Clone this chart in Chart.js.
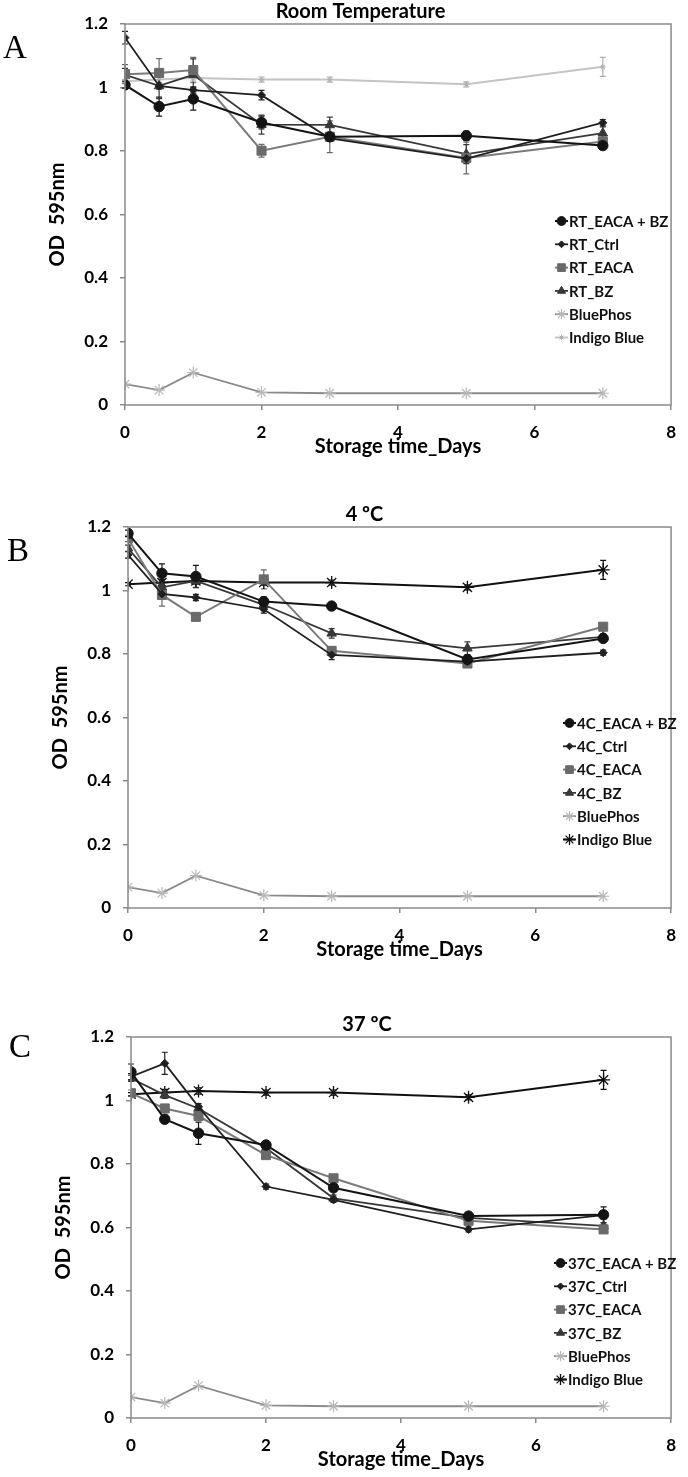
<!DOCTYPE html>
<html>
<head>
<meta charset="utf-8">
<script src="https://cdn.jsdelivr.net/npm/chart.js@4.4.1/dist/chart.umd.min.js"></script>
<style>
  html, body { margin: 0; padding: 0; background: #fff; }
  body { position: relative; width: 688px; height: 1477px; overflow: hidden; }
  canvas { position: absolute; left: 0; }
</style>
</head>
<body>
<canvas id="chartA" width="688" height="464" style="top:0px"></canvas>
<canvas id="chartB" width="688" height="464" style="top:503px"></canvas>
<canvas id="chartC" width="688" height="464" style="top:1013px"></canvas>
<script>
// storage time points (days)
const days = [0, 0.5, 1, 2, 3, 5, 7];
const xTickValues = [0, 2, 4, 6, 8];
const xTickLabels = ['0', '2', '4', '6', '8'];
const yTickValues = [0, 0.2, 0.4, 0.6, 0.8, 1, 1.2];
const yTickLabels = ['0', '0.2', '0.4', '0.6', '0.8', '1', '1.2'];

// controls, same in every panel
const bluePhos = [0.066, 0.047, 0.102, 0.040, 0.037, 0.037, 0.037];
const bluePhosErr = [0, 0, 0, 0, 0, 0, 0];
const indigoBlue = [1.020, 1.025, 1.030, 1.025, 1.025, 1.010, 1.065];
const indigoBlueErr = [0.005, 0.010, 0.010, 0.008, 0.008, 0.008, 0.030];

// A - room temperature
const rtNames = ['RT_EACA + BZ', 'RT_Ctrl', 'RT_EACA', 'RT_BZ', 'BluePhos', 'Indigo Blue'];
const rtEacaBz = [1.008, 0.940, 0.964, 0.890, 0.845, 0.848, 0.817];
const rtCtrl = [1.157, 1.005, 0.992, 0.976, 0.840, 0.776, 0.889];
const rtEaca = [1.042, 1.046, 1.055, 0.801, 0.845, 0.778, 0.830];
const rtBz = [1.040, 1.005, 1.040, 0.883, 0.882, 0.790, 0.856];
const rtEacaBzErr = [0.010, 0.030, 0.035, 0.020, 0.010, 0.015, 0.010];
const rtCtrlErr = [0.020, 0.010, 0.010, 0.015, 0.010, 0.010, 0.010];
const rtEacaErr = [0.030, 0.045, 0.040, 0.020, 0.050, 0.050, 0.010];
const rtBzErr = [0.020, 0.040, 0.050, 0.030, 0.025, 0.030, 0.020];

// B - 4 C
const c4Names = ['4C_EACA + BZ', '4C_Ctrl', '4C_EACA', '4C_BZ', 'BluePhos', 'Indigo Blue'];
const c4EacaBz = [1.180, 1.054, 1.044, 0.965, 0.951, 0.783, 0.849];
const c4Ctrl = [1.112, 0.989, 0.978, 0.941, 0.797, 0.776, 0.804];
const c4Eaca = [1.164, 0.986, 0.917, 1.035, 0.810, 0.770, 0.886];
const c4Bz = [1.133, 1.010, 1.030, 0.955, 0.865, 0.818, 0.854];
const c4EacaBzErr = [0.010, 0.030, 0.035, 0.015, 0.010, 0.010, 0.010];
const c4CtrlErr = [0.010, 0.010, 0.010, 0.012, 0.015, 0.010, 0.008];
const c4EacaErr = [0.010, 0.035, 0.010, 0.030, 0.010, 0.010, 0.010];
const c4BzErr = [0.010, 0.020, 0.020, 0.015, 0.015, 0.020, 0.010];

// C - 37 C
const c37Names = ['37C_EACA + BZ', '37C_Ctrl', '37C_EACA', '37C_BZ', 'BluePhos', 'Indigo Blue'];
const c37EacaBz = [1.090, 0.941, 0.897, 0.860, 0.725, 0.636, 0.640];
const c37Ctrl = [1.075, 1.117, 0.980, 0.729, 0.687, 0.594, 0.639];
const c37Eaca = [1.023, 0.975, 0.951, 0.828, 0.755, 0.621, 0.594];
const c37Bz = [1.070, 1.017, 0.975, 0.850, 0.692, 0.630, 0.605];
const c37EacaBzErr = [0.025, 0.012, 0.035, 0.010, 0.010, 0.010, 0.025];
const c37CtrlErr = [0.010, 0.035, 0.010, 0.008, 0.008, 0.008, 0.010];
const c37EacaErr = [0.010, 0.010, 0.010, 0.010, 0.010, 0.010, 0.010];
const c37BzErr = [0.010, 0.010, 0.010, 0.010, 0.010, 0.010, 0.010];

Chart.defaults.font.family = 'Lato, "Open Sans", sans-serif';
Chart.defaults.color = '#000';

const mk = (color, width, style, radius, fill) => ({
  borderColor: color,
  borderWidth: width,
  pointStyle: style,
  pointRadius: radius,
  pointBackgroundColor: fill || color,
  pointBorderColor: fill || color,
  pointBorderWidth: 1,
  tension: 0
});

const styleA = [
  mk('#141414', 2, 'circle', 5.2),
  mk('#202020', 1.8, 'rectRot', 4),
  mk('#7a7a7a', 2, 'rect', 6.4, '#6a6a6a'),
  mk('#383838', 1.8, 'triangle', 5.5),
  Object.assign(mk('#8a8a8a', 1.8, 'star', 6, '#b8b8b8'), { pointBorderWidth: 1.2 }),
  Object.assign(mk('#c4c4c4', 2, 'star', 3, '#b0b0b0'), { pointBorderWidth: 1 })
];
const styleBC = styleA.slice(0, 5).concat([
  Object.assign(mk('#111111', 2, 'star', 6.5, '#111111'), { pointBorderWidth: 1.3 })
]);

// frame, error bars, inside legend and panel letter
const extras = {
  id: 'extras',
  beforeDatasetsDraw(chart) {
    const ctx = chart.ctx, xs = chart.scales.x, ys = chart.scales.y;
    chart.data.datasets.forEach(ds => {
      if (!ds.errors) return;
      ctx.save();
      ctx.strokeStyle = ds.pointBorderColor;
      ctx.lineWidth = 1.2;
      ds.data.forEach((p, j) => {
        const e = ds.errors[j];
        if (!e) return;
        const x = xs.getPixelForValue(p.x);
        const y1 = ys.getPixelForValue(p.y + e);
        const y2 = ys.getPixelForValue(p.y - e);
        ctx.beginPath();
        ctx.moveTo(x, y1); ctx.lineTo(x, y2);
        ctx.moveTo(x - 3, y1); ctx.lineTo(x + 3, y1);
        ctx.moveTo(x - 3, y2); ctx.lineTo(x + 3, y2);
        ctx.stroke();
      });
      ctx.restore();
    });
  },
  afterDraw(chart, args, opts) {
    const ctx = chart.ctx, ca = chart.chartArea;
    ctx.save();
    ctx.strokeStyle = '#8a8a8a';
    ctx.lineWidth = 1.5;
    ctx.strokeRect(ca.left, ca.top, ca.right - ca.left, ca.bottom - ca.top);

    // legend
    const lg = opts.legend;
    chart.data.datasets.forEach((ds, i) => {
      const y = ca.top + lg.dy + i * lg.row;
      const x0 = ca.left + lg.dx;
      ctx.strokeStyle = ds.borderColor;
      ctx.lineWidth = ds.borderWidth;
      ctx.beginPath();
      ctx.moveTo(x0, y); ctx.lineTo(x0 + 13, y);
      ctx.stroke();
      ctx.fillStyle = ds.pointBackgroundColor;
      ctx.strokeStyle = ds.pointBorderColor;
      ctx.lineWidth = ds.pointBorderWidth;
      Chart.helpers.drawPoint(ctx, {
        pointStyle: ds.pointStyle,
        radius: ds.pointRadius * 0.85,
        rotation: 0,
        borderWidth: ds.pointBorderWidth
      }, x0 + 6.5, y);
      ctx.fillStyle = '#111';
      ctx.font = 'bold 15px Lato';
      ctx.textAlign = 'left';
      ctx.textBaseline = 'middle';
      ctx.fillText(ds.label, x0 + 14, y + 1);
    });

    // panel letter
    ctx.fillStyle = '#000';
    ctx.font = '33px "Liberation Serif", "DejaVu Serif", serif';
    ctx.textAlign = 'center';
    ctx.textBaseline = 'middle';
    ctx.fillText(opts.letter.text, opts.letter.x, opts.letter.y);
    ctx.restore();
  }
};

function makePanel(id, p) {
  const datasets = p.series.map((vals, i) => Object.assign({
    label: p.names[i],
    data: days.map((d, j) => ({ x: d, y: vals[j] })),
    errors: p.errors[i]
  }, p.styles[i]));

  const axisFont = { size: 17, weight: 'bold' };
  const titleFont = { size: 20, weight: 'bold' };
  const grid = { drawOnChartArea: false, drawTicks: true, tickLength: 5, color: '#8a8a8a', lineWidth: 1.5 };

  return new Chart(document.getElementById(id), {
    type: 'line',
    data: { datasets: datasets },
    options: {
      responsive: false,
      animation: false,
      events: [],
      layout: { padding: { left: p.padLeft, right: p.padRight, top: 0, bottom: 5 } },
      plugins: {
        legend: { display: false },
        tooltip: { enabled: false },
        title: { display: true, text: p.title, font: titleFont, color: '#000', padding: 0 },
        extras: { legend: p.legend, letter: p.letter }
      },
      scales: {
        x: {
          type: 'linear',
          min: 0,
          max: 8,
          afterBuildTicks: s => { s.ticks = xTickValues.map(v => ({ value: v })); },
          afterFit: s => { s.height = 54; },
          ticks: { callback: (v, i) => xTickLabels[i], font: axisFont, color: '#000', padding: 12, maxRotation: 0 },
          grid: grid,
          border: { display: false },
          title: { display: true, text: 'Storage time_Days', font: titleFont, color: '#000', padding: 0 }
        },
        y: {
          min: 0,
          max: 1.2,
          afterBuildTicks: s => { s.ticks = yTickValues.map(v => ({ value: v })); },
          afterFit: s => { s.width = p.yWidth; },
          ticks: { callback: (v, i) => yTickLabels[i], font: axisFont, color: '#000', padding: 12 },
          grid: grid,
          border: { display: false },
          title: { display: true, text: 'OD  595nm', font: titleFont, color: '#000', padding: 0 }
        }
      }
    },
    plugins: [extras]
  });
}

makePanel('chartA', {
  title: 'Room Temperature',
  names: rtNames,
  series: [rtEacaBz, rtCtrl, rtEaca, rtBz, bluePhos, indigoBlue],
  errors: [rtEacaBzErr, rtCtrlErr, rtEacaErr, rtBzErr, bluePhosErr, indigoBlueErr],
  styles: styleA,
  padLeft: 46, padRight: 13, yWidth: 79,
  legend: { dx: 430, dy: 197, row: 23.3 },
  letter: { text: 'A', x: 15, y: 49 }
});

makePanel('chartB', {
  title: '4 ºC',
  names: c4Names,
  series: [c4EacaBz, c4Ctrl, c4Eaca, c4Bz, bluePhos, indigoBlue],
  errors: [c4EacaBzErr, c4CtrlErr, c4EacaErr, c4BzErr, bluePhosErr, indigoBlueErr],
  styles: styleBC,
  padLeft: 49, padRight: 8, yWidth: 79,
  legend: { dx: 435, dy: 196, row: 23.3 },
  letter: { text: 'B', x: 18, y: 49 }
});

makePanel('chartC', {
  title: '37 ºC',
  names: c37Names,
  series: [c37EacaBz, c37Ctrl, c37Eaca, c37Bz, bluePhos, indigoBlue],
  errors: [c37EacaBzErr, c37CtrlErr, c37EacaErr, c37BzErr, bluePhosErr, indigoBlueErr],
  styles: styleBC,
  padLeft: 52, padRight: 6, yWidth: 79,
  legend: { dx: 423, dy: 226, row: 23.3 },
  letter: { text: 'C', x: 20, y: 35 }
});
</script>
</body>
</html>
